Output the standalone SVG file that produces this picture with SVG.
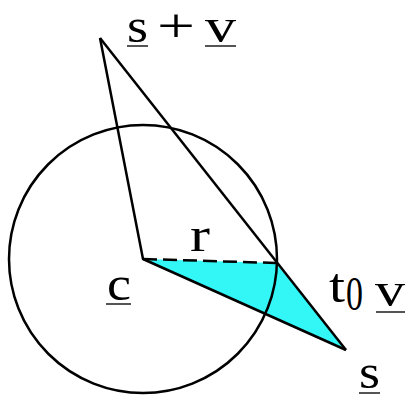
<svg xmlns="http://www.w3.org/2000/svg" width="409" height="398" viewBox="0 0 409 398">
<style>
.ln{stroke:#000;stroke-width:2.5;fill:none;stroke-linejoin:round}
.t{font-family:"Liberation Serif","DejaVu Serif",serif;font-size:48px;fill:#000}
.u{stroke:#555;stroke-width:2}
</style>
<rect width="409" height="398" fill="#fff"/>
<g id="triangle"><polygon points="143,259 276,263 346,350" fill="#33f6f6"/></g>
<g id="circle"><circle cx="143" cy="259" r="134" class="ln"/></g>
<g id="connectors">
<polyline class="ln" points="100,38 143,259 346,350"/>
<line class="ln" x1="100" y1="38" x2="346" y2="350"/>
<line class="ln" x1="143" y1="259" x2="276" y2="263" stroke-dasharray="14,6"/>
</g>
<g id="label-sv"><text class="t" x="127" y="42" font-size="38" textLength="21" lengthAdjust="spacingAndGlyphs">s</text><line class="u" x1="127" y1="46" x2="148" y2="46"/><text class="t" x="157" y="42" font-size="38" textLength="38" lengthAdjust="spacingAndGlyphs">+</text><text class="t" x="205" y="42" font-size="38" textLength="31" lengthAdjust="spacingAndGlyphs">v</text><line class="u" x1="205" y1="46" x2="236" y2="46"/></g>
<g id="label-r"><text class="t" x="190" y="251" textLength="20" lengthAdjust="spacingAndGlyphs">r</text></g>
<g id="label-c"><text class="t" x="107" y="300" textLength="24" lengthAdjust="spacingAndGlyphs">c</text><line class="u" x1="106" y1="304" x2="131" y2="304"/></g>
<g id="label-t0v"><text class="t" x="329" y="302" textLength="16" lengthAdjust="spacingAndGlyphs">t</text><text class="t" x="346" y="310" font-size="34" textLength="17" lengthAdjust="spacingAndGlyphs">0</text><text class="t" x="375" y="306" textLength="30" lengthAdjust="spacingAndGlyphs">v</text><line class="u" x1="376" y1="312" x2="405" y2="312"/></g>
<g id="label-s"><text class="t" x="359" y="388" textLength="21" lengthAdjust="spacingAndGlyphs">s</text><line class="u" x1="359" y1="393" x2="380" y2="393"/></g>
</svg>
